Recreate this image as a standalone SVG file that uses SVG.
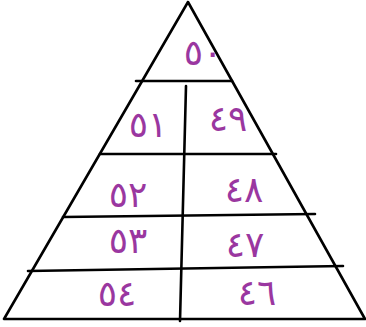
<svg xmlns="http://www.w3.org/2000/svg" width="366" height="327" viewBox="0 0 366 327">
<style>
.ln{stroke:#000;stroke-width:2.6;fill:none;stroke-linecap:round;stroke-linejoin:round}
.t{font-family:"DejaVu Sans","Noto Sans",sans-serif;font-size:36px;fill:#9a37a0;text-anchor:middle;dominant-baseline:central}
</style>
<rect width="366" height="327" fill="#fff"/>
<g id="connectors">
<path class="ln" d="M188,2 L4,319 L365,319 Z"/>
<line class="ln" x1="136" y1="81" x2="232" y2="81"/>
<line class="ln" x1="100" y1="154" x2="276" y2="154"/>
<line class="ln" x1="63" y1="217" x2="315" y2="214"/>
<line class="ln" x1="28" y1="271" x2="343" y2="266"/>
<line class="ln" x1="186" y1="86" x2="180" y2="321"/>
</g>
<g id="n50"><text class="t" x="203" y="52">٥٠</text></g>
<g id="n51"><text class="t" x="148" y="124">٥١</text></g>
<g id="n49"><text class="t" x="228" y="118">٤٩</text></g>
<g id="n52"><text class="t" x="128" y="194">٥٢</text></g>
<g id="n48"><text class="t" x="244" y="189">٤٨</text></g>
<g id="n53"><text class="t" x="128" y="240">٥٣</text></g>
<g id="n47"><text class="t" x="245" y="244">٤٧</text></g>
<g id="n54"><text class="t" x="117" y="293">٥٤</text></g>
<g id="n46"><text class="t" x="257" y="292">٤٦</text></g>
</svg>
